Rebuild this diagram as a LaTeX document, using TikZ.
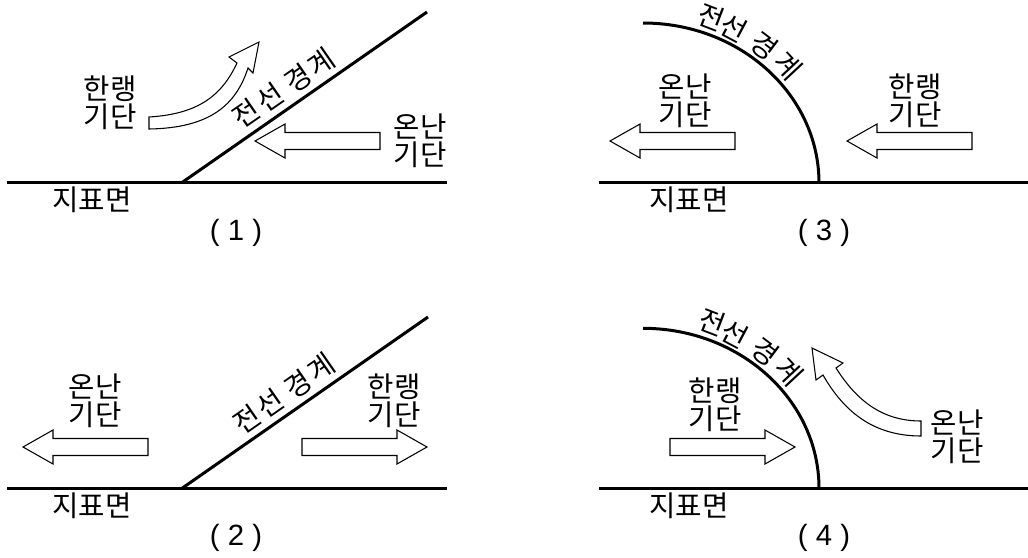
\documentclass[tikz,border=0pt]{standalone}
\usepackage{fontspec}
\setmainfont{Noto Sans CJK KR}
\newfontfamily\spacedkr[LetterSpace=9]{Noto Sans CJK KR}
\newfontfamily\latinfont{Liberation Sans}
\lineskiplimit=-20pt\relax
\begin{document}
\begin{tikzpicture}[x=0.75pt,y=-0.75pt,
  ground/.style={line width=2.25pt},
  frontline/.style={line width=2.25pt},
  hollow/.style={draw, line width=0.8pt, fill=white, line join=miter},
  lbl/.style={font=\fontsize{21.5}{21}\selectfont, align=center, inner sep=0pt},
  slopetxt/.style={font=\spacedkr\fontsize{21}{21}\selectfont, inner sep=0pt},
  curvechar/.style={font=\fontsize{21}{21}\selectfont, inner sep=0pt},
  captxt/.style={font=\latinfont\fontsize{22}{24}\selectfont, inner sep=0pt},
  harrow/.pic={\draw[hollow] (0,-8.5) -- (95,-8.5) -- (95,-17) -- (125,0) -- (95,17) -- (95,8.5) -- (0,8.5) -- cycle;}
]
\useasboundingbox (0,0) rectangle (1028,557);

% ---------- Panel (1) ----------
\coordinate (g1a) at (7,182.5);
\coordinate (g1b) at (447,182.5);
\coordinate (f1a) at (182,182.5);
\coordinate (f1b) at (427,12);
\draw[ground] (g1a) -- (g1b);
\draw[frontline] (f1a) -- (f1b);
\node[slopetxt, rotate=34.7] (t1) at (284,88) {전선 경계};
\node[lbl] (c1) at (110,103) {한랭\\기단};
\node[lbl] (w1) at (420,141) {온난\\기단};
\node[lbl] (s1) at (92,200) {지표면};
\node[captxt] (n1) at (236,233) {( 1 )};
\pic[rotate=180] at (380,141) {harrow};
\draw[hollow] (149,117) -- (149,129) .. controls (210,128) and (236,105) .. (248,68)
  -- (253,73) -- (259,42) -- (229,57) -- (237,63)
  .. controls (222,95) and (199,114) .. (149,117) -- cycle;

% ---------- Panel (3) ----------
\coordinate (g3a) at (599,182.5);
\coordinate (g3b) at (1028,182.5);
\coordinate (f3a) at (643,23);
\draw[ground] (g3a) -- (g3b);
\draw[frontline] (f3a) arc[start angle=-90, end angle=0, x radius=176, y radius=160];
\node[curvechar, rotate=-21] (t3a) at (711,17) {전};
\node[curvechar, rotate=-28] (t3b) at (734,28) {선};
\node[curvechar, rotate=-37] (t3c) at (764,46) {경};
\node[curvechar, rotate=-47] (t3d) at (788,66) {계};
\node[lbl] (w3) at (685,101) {온난\\기단};
\node[lbl] (c3) at (915,101) {한랭\\기단};
\node[lbl] (s3) at (689,200) {지표면};
\node[captxt] (n3) at (824,233) {( 3 )};
\pic[rotate=180] at (735,141) {harrow};
\pic[rotate=180] at (972,141) {harrow};

% ---------- Panel (2) ----------
\coordinate (g2a) at (7,488.3);
\coordinate (g2b) at (447,488.3);
\coordinate (f2a) at (182,488.3);
\coordinate (f2b) at (428,317);
\draw[ground] (g2a) -- (g2b);
\draw[frontline] (f2a) -- (f2b);
\node[slopetxt, rotate=34.8] (t2) at (284,394) {전선 경계};
\node[lbl] (w2) at (95,401) {온난\\기단};
\node[lbl] (c2) at (394,401) {한랭\\기단};
\node[lbl] (s2) at (92,506) {지표면};
\node[captxt] (n2) at (236,538) {( 2 )};
\pic[rotate=180] at (148,447) {harrow};
\pic at (302,447) {harrow};

% ---------- Panel (4) ----------
\coordinate (g4a) at (599,488.3);
\coordinate (g4b) at (1028,488.3);
\coordinate (f4a) at (643,328.3);
\draw[ground] (g4a) -- (g4b);
\draw[frontline] (f4a) arc[start angle=-90, end angle=0, x radius=176, y radius=160];
\node[curvechar, rotate=-21] (t4a) at (712,322) {전};
\node[curvechar, rotate=-28] (t4b) at (735,334) {선};
\node[curvechar, rotate=-37] (t4c) at (765,352) {경};
\node[curvechar, rotate=-47] (t4d) at (789,372) {계};
\node[lbl] (c4) at (715,405) {한랭\\기단};
\node[lbl] (w4) at (957,437) {온난\\기단};
\node[lbl] (s4) at (689,506) {지표면};
\node[captxt] (n4) at (824,538) {( 4 )};
\pic at (670,447) {harrow};
\draw[hollow] (921,421) -- (921,436) .. controls (872,436) and (843,410) .. (823,375)
  -- (816,380) -- (812,348) -- (843,363) -- (836,368)
  .. controls (855,398) and (880,421) .. (921,421) -- cycle;
\end{tikzpicture}
\end{document}
